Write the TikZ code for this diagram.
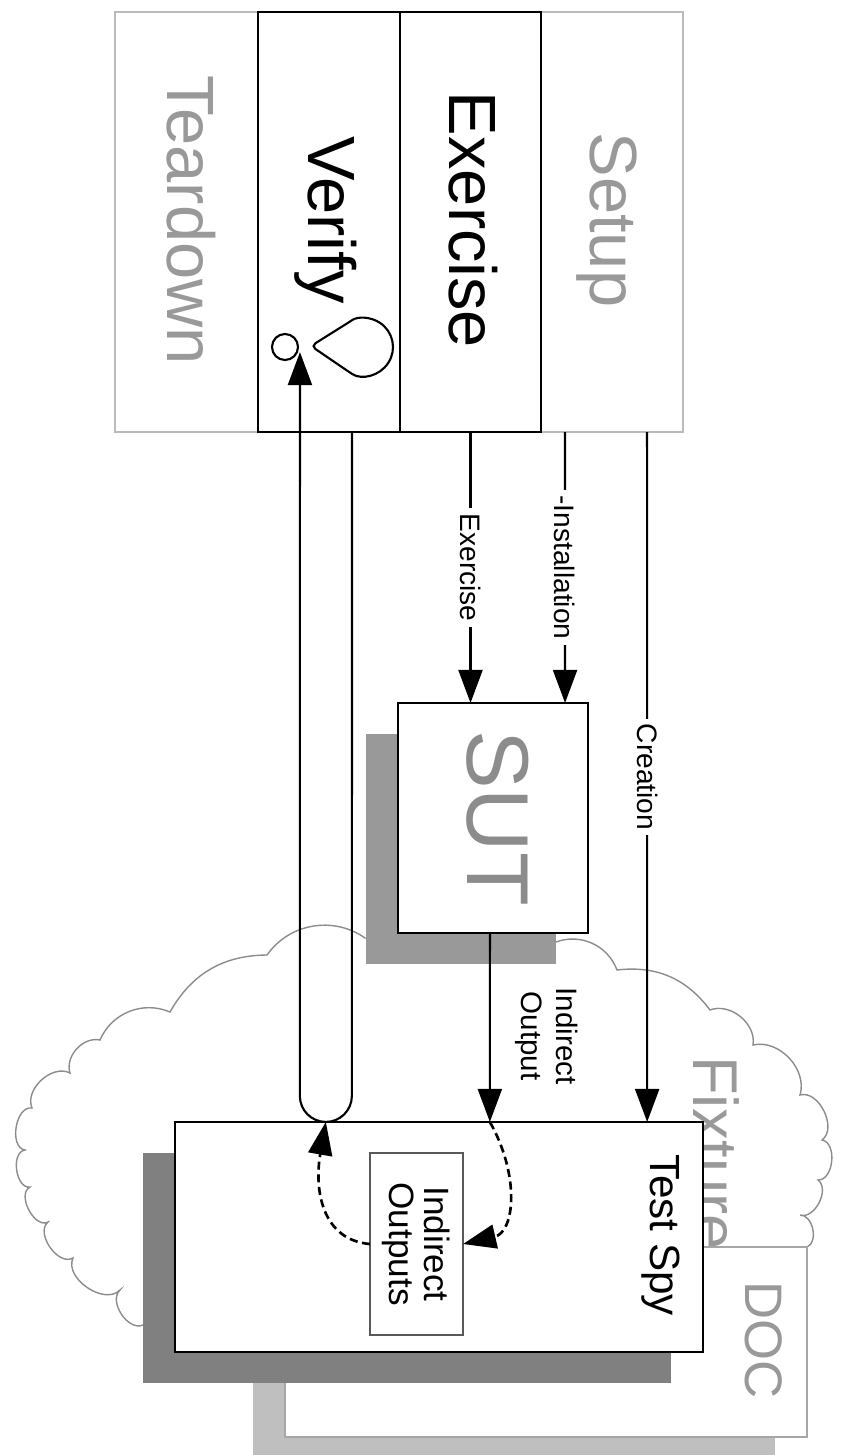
\documentclass[tikz,border=0pt]{standalone}
\usepackage{fontspec}
\setmainfont{Liberation Sans}
\usetikzlibrary{arrows.meta,calc,shadows}
\definecolor{phasegray}{HTML}{BBBBBB}
\definecolor{txtgray}{HTML}{999999}
\tikzset{
  box/.style={draw, fill=white, inner sep=0pt, outer sep=0pt},
  phase/.style={rotate=-90, anchor=base, inner sep=0pt, font=\fontsize{19}{23}\selectfont},
  lbl/.style={rotate=-90, fill=white, inner sep=1.5pt, font=\fontsize{8}{9.6}\selectfont},
  flow/.style={dash pattern=on 2.3pt off 1.3pt, line width=0.75pt},
  shade/.style={drop shadow={shadow xshift=-0.32cm, shadow yshift=-0.31cm, opacity=1, fill=#1, draw=none}}
}
\begin{document}
\begin{tikzpicture}[x=0.01cm,y=-0.01cm,line width=0.6pt,>={Triangle[length=3.3mm,width=2.4mm]}]
\useasboundingbox (0,0) rectangle (843,1455);

% phases
\node[box, draw=phasegray, minimum width=1.43cm, minimum height=4.2cm] (tear) at (186.5,222) {};
\node[box, draw=phasegray, minimum width=1.42cm, minimum height=4.2cm] (setup) at (612,222) {};
\node[box, minimum width=1.42cm, minimum height=4.2cm] (verify) at (329,222) {};
\node[box, minimum width=1.41cm, minimum height=4.2cm] (exer) at (470.5,222) {};
\node[phase, text=txtgray] (teartxt) at (167,220) {Teardown};
\node[phase] (verifytxt) at (308,220) {Verify};
\node[phase] (exertxt) at (449,220) {Exercise};
\node[phase, text=txtgray] (setuptxt) at (590,220) {Setup};
\draw (285,347) circle[radius=13];
\draw[rounded corners=1.5pt] (311,346) -- (348.1,371.3) arc[start angle=123.2, end angle=-123.2, radius=29] -- cycle;

% fixture cloud
\draw[black!45, line width=0.4pt] (143,1325) to[bend left=80] (120,1290) to[bend left=80] (73,1258)
  to[bend left=85] (48,1222) to[bend left=90] (30,1187) to[bend left=90] (25,1150)
  to[bend left=90] (32,1108) to[bend left=70] (70,1073) to[bend left=60] (100,1040)
  to[bend left=45] (170,1012) to[bend left=30] (267,955) to[bend left=45] (365,938) -- (556,942)
  to[bend left=45] (617,970) to[bend left=30] (710,1010) to[bend left=60] (753,1045)
  to[bend left=60] (800,1095) to[bend left=80] (822,1140) to[bend left=85] (818,1180)
  to[bend left=80] (800,1215) to[bend left=80] (807,1247);
\node[rotate=-90, anchor=base west, inner sep=0pt, text=txtgray, font=\fontsize{18}{22}\selectfont] (fixtxt) at (693,1055) {Fixture};

% boxes
\node[box, draw=black!35, shade=black!25, minimum width=5.22cm, minimum height=1.9cm] (doc) at (546,1342) {};
\node[phase, text=txtgray, font=\fontsize{15}{18}\selectfont] (doctxt) at (745,1340) {DOC};
\node[box, shade=black!50, minimum width=5.28cm, minimum height=2.3cm] (spy) at (439,1237) {};
\node[phase, font=\fontsize{12}{14}\selectfont] (spytxt) at (650,1235) {Test Spy};
\node[box, draw=black!65, minimum width=1.82cm, minimum height=0.93cm, rotate=-90, align=center,
  font=\fontsize{10}{10}\selectfont] (outs) at (416.5,1244) {Indirect\\Outputs};
\node[box, shade=black!40, minimum width=1.9cm, minimum height=2.3cm] (sut) at (493,818) {};
\node[phase, text=black!45, font=\fontsize{25}{30}\selectfont] (suttxt) at (467,818) {SUT};

% connectors
\coordinate (loopbot) at ($(spy.north west)+(151,0)$);
\coordinate (vin) at ($(verify.south west)+(42,-80)$);
\begin{scope}[->]
  \draw (exer.south) -- (exer.south |- sut.north) node[lbl, midway] {Exercise};
  \draw ($(setup.south west)+(24,0)$) -- ($(sut.north east)+(-23,0)$) node[lbl, midway] {-Installation};
  \draw ($(setup.south east)+(-36,0)$) -- ($(spy.north east)+(-56,0)$) node[lbl, midway] {Creation};
  \draw ($(sut.south west)+(92,0)$) -- ($(spy.north west)+(315,0)$);
  \draw[rounded corners=0.26cm] ($(verify.south east)+(-48,0)$) -- ($(spy.north west)+(177,0)$)
    -- ($(spy.north west)+(125,0)$) -- (vin);
  \draw[flow] ($(spy.north west)+(315,0)$) .. controls (520,1175) and (515,1232) .. (outs.north);
  \draw[flow] (outs.south) .. controls (322,1240) and (314,1190) .. (loopbot);
\end{scope}
\node[rotate=-90, align=center, inner sep=0pt, font=\fontsize{8.4}{10}\selectfont] (outlbl) at (547,1036) {Indirect\\Output};
\end{tikzpicture}
\end{document}
